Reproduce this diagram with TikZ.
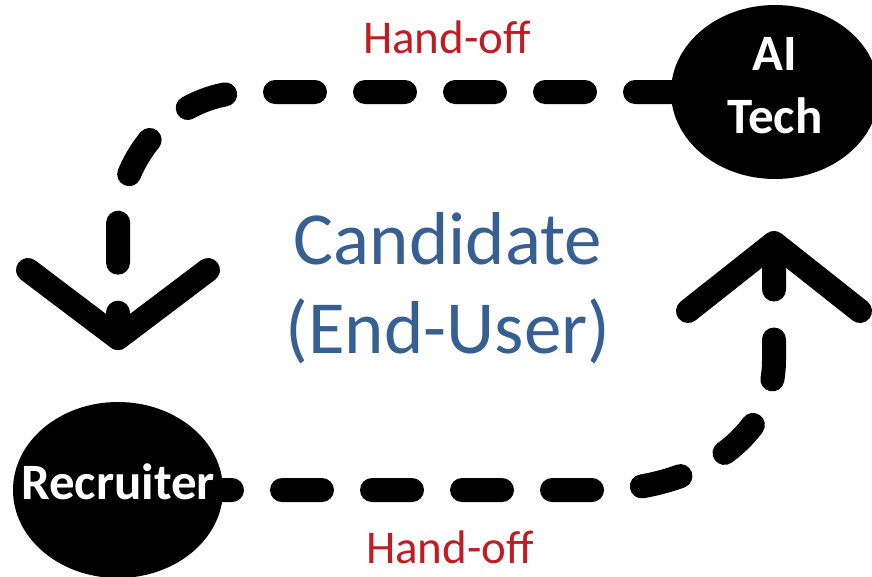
\documentclass[tikz,border=0pt]{standalone}
\usepackage{fontspec}
\setmainfont{Carlito}
\usetikzlibrary{shapes.geometric, backgrounds}
\definecolor{handred}{RGB}{190,30,35}
\definecolor{userblue}{RGB}{55,96,146}

\begin{document}
\begin{tikzpicture}[
            x=1pt, y=-1pt,
            party/.style={ellipse, fill=black, inner sep=0pt, outer sep=0pt},
            partyname/.style={text=white, align=center, font=\bfseries\fontsize{51}{63}\selectfont},
            handoff/.style={line width=24pt, line cap=round, dash pattern=on 40pt off 50pt},
            chevron/.style={line width=24pt, line cap=round, line join=round},
            handnote/.style={text=handred, anchor=base, font=\fontsize{47}{54}\selectfont},
        ]
            \useasboundingbox (0,0) rectangle (872,576);

            % --- the two parties ---
            \node[party, minimum width=208pt, minimum height=174pt,
                  label={[partyname, yshift=6pt]center:{AI\\Tech}}] (aitech) at (775,92) {};
            \node[party, minimum width=210pt, minimum height=176pt,
                  label={[partyname, yshift=8pt]center:Recruiter}] (recruiter) at (118,490) {};

            % --- tips of the hand-offs ---
            \coordinate (downtip) at (118,338);
            \coordinate (uptip) at (774,243);

            % --- dashed hand-offs, behind the parties ---
            \begin{scope}[on background layer]
                \draw[handoff, dash phase=4pt] (aitech.west) -- (250,92)
                    .. controls (175,92) and (118,155) .. (118,230) -- (downtip);
                \draw[handoff, dash phase=31pt] (recruiter.east) -- (600,490)
                    .. controls (685,490) and (774,445) .. (774,360) -- (uptip);
            \end{scope}

            % --- open arrow heads ---
            \draw[chevron] (28,270) -- (downtip) -- (208,270);
            \draw[chevron] (688,311) -- (uptip) -- (860,311);

            % --- labels ---
            \node[handnote] (topnote) at (447,53) {Hand-off};
            \node[handnote] (bottomnote) at (450,563) {Hand-off};
            \node[text=userblue, align=center, font=\fontsize{75}{89}\selectfont] (candidate)
                at (448,288) {Candidate\\(End-User)};
        \end{tikzpicture}
\end{document}
